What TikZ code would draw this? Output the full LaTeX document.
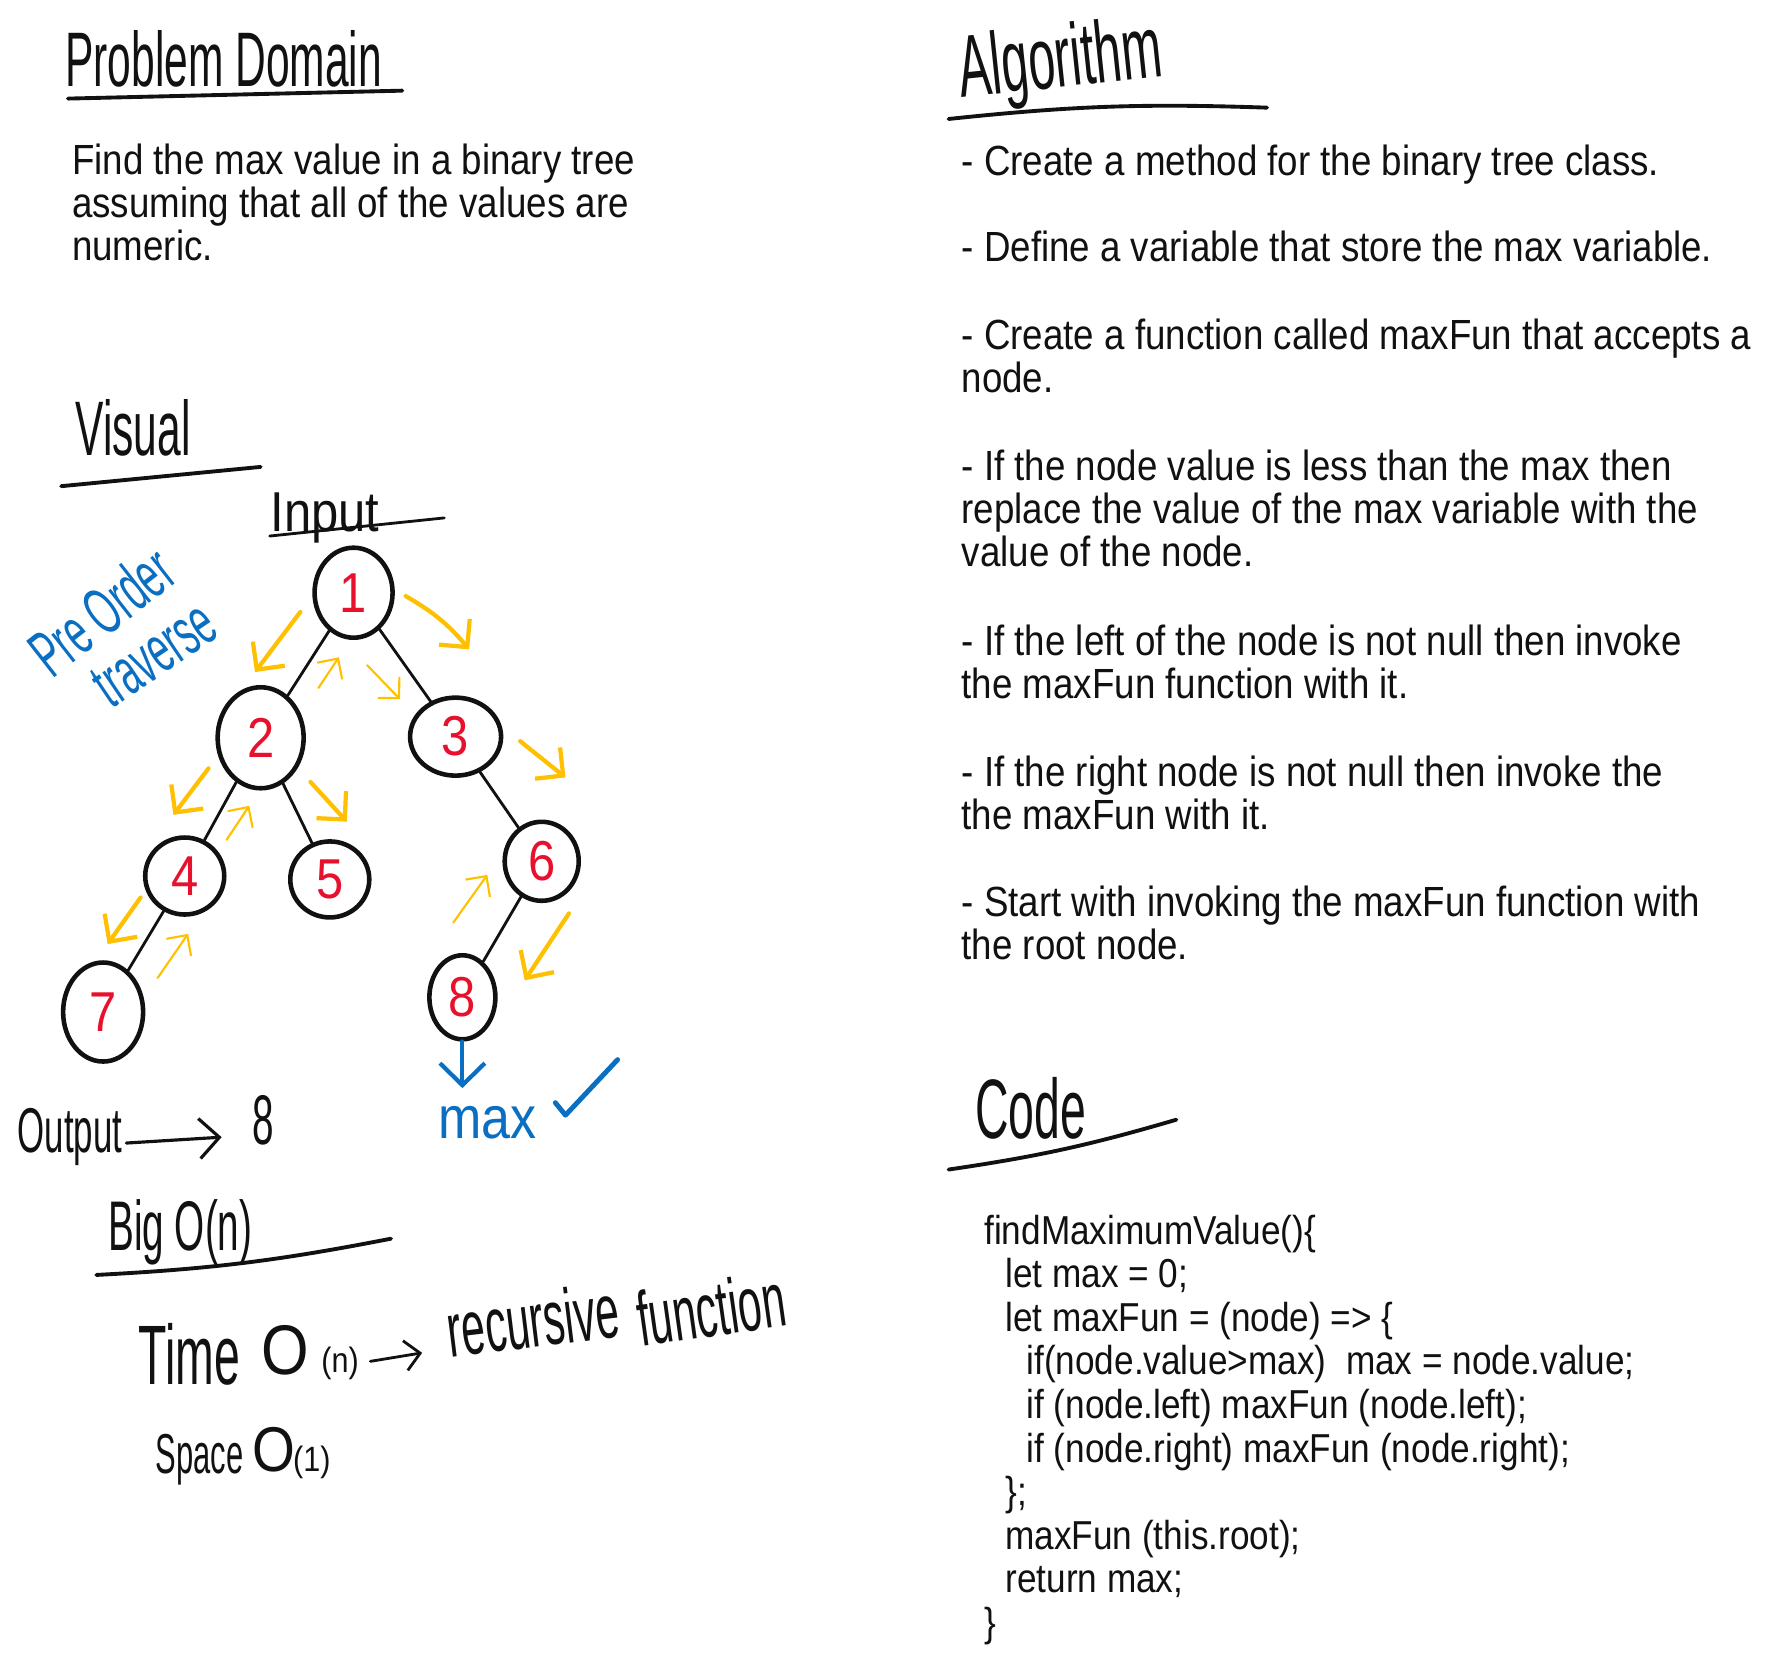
\documentclass[tikz,border=0pt]{standalone}
\usepackage{fontspec}
\setmainfont{Liberation Sans}[FakeStretch=0.87]
\newfontfamily\handfont{Liberation Sans}[FakeStretch=0.55]
\usepackage{tikz}
\usetikzlibrary{arrows.meta,positioning,shapes.geometric}
\definecolor{ink}{HTML}{111111}
\definecolor{numred}{HTML}{E8112D}
\definecolor{trail}{HTML}{FFC000}
\definecolor{pen}{HTML}{0A6FC2}

\begin{document}
\begin{tikzpicture}[
  x=0.11333mm, y=-0.11333mm,
  every node/.style={inner sep=0pt, text=ink},
  heading/.style={font=\handfont\fontsize{22}{24}\selectfont, anchor=base west},
  % multi-line nodes sit on the baseline of their last line
  body/.style={font=\fontsize{12}{12.25}\selectfont, align=left, anchor=base west},
  code/.style={font=\fontsize{11.5}{12.4}\selectfont, align=left, anchor=base west},
  tnode/.style={ellipse, draw=ink, line width=1.3pt, text=numred, font=\fontsize{16}{16}\selectfont},
  edge/.style={draw=ink, line width=0.8pt, line cap=round},
  uline/.style={draw=ink, line width=1.1pt, line cap=round},
  trail/.style={-{Straight Barb[length=2mm,width=4mm]}, draw=trail, line width=1.2pt, line cap=round},
  trailthin/.style={-{Straight Barb[length=1.5mm,width=3mm]}, draw=trail, line width=0.6pt, line cap=round},
  arrow/.style={-{Straight Barb[length=2mm,width=4mm]}, draw=ink, line width=0.9pt, line cap=round},
  penline/.style={draw=pen, line width=1.2pt, line cap=round, line join=round}
]
\fill[white] (0,0) rectangle (1568,1466);
\useasboundingbox (0,0) rectangle (1568,1466);

% problem domain
\node[heading] (pdtitle) at (57,76) {Problem Domain};
\draw[uline] (60,87) -- (355,80);
\node[body] (pdtext) at (63,230) {Find the max value in a binary tree\\assuming that all of the values are\\numeric.};

% algorithm
\node[heading, font=\handfont\fontsize{25}{26}\selectfont, rotate=6] (algtitle) at (848,86) {Algorithm};
\draw[uline] (837,105) to[bend left=4] (1118,95);
\node[body] (step1) at (848,155) {- Create a method for the binary tree class.};
\node[body] (step2) at (848,231) {- Define a variable that store the max variable.};
\node[body] (step3) at (848,346) {- Create a function called maxFun that accepts a\\node.};
\node[body] (step4) at (848,500) {- If the node value is less than the max then\\replace the value of the max variable with the\\value of the node.};
\node[body] (step5) at (848,616) {- If the left of the node is not null then invoke\\the maxFun function with it.};
\node[body] (step6) at (848,732) {- If the right node is not null then invoke the\\the maxFun with it.};
\node[body] (step7) at (848,847) {- Start with invoking the maxFun function with\\the root node.};

% visual
\node[heading] (vistitle) at (66,402) {Visual};
\draw[uline] (54,429) -- (230,412);
\node[anchor=base west, font=\fontsize{16}{16}\selectfont] (input) at (238,469) {Input};
\draw[uline, line width=0.8pt] (238,473) -- (392,457);
\node[heading, font=\handfont\fontsize{19}{19}\selectfont, text=pen, rotate=38] (pre) at (46,600) {Pre Order};
\node[heading, font=\handfont\fontsize{19}{19}\selectfont, text=pen, rotate=34] (trav) at (98,626) {traverse};

% tree
\node[tnode, minimum width=7.8mm, minimum height=9mm] (n1) at (312,523) {1};
\node[tnode, minimum width=8.6mm, minimum height=10.1mm] (n2) at (230,651) {2};
\node[tnode, minimum width=9.1mm, minimum height=7.8mm] (n3) at (402,650) {3};
\node[tnode, minimum width=7.9mm, minimum height=7.7mm] (n4) at (163,773) {4};
\node[tnode, minimum width=7.9mm, minimum height=7.6mm] (n5) at (291,776) {5};
\node[tnode, minimum width=7.4mm, minimum height=7.9mm] (n6) at (478,760) {6};
\node[tnode, minimum width=8mm, minimum height=9.9mm] (n7) at (91,893) {7};
\node[tnode, minimum width=6.6mm, minimum height=8.4mm] (n8) at (408,880) {8};

\draw[edge] (n1) -- (n2);
\draw[edge] (n1) -- (n3);
\draw[edge] (n2) -- (n4);
\draw[edge] (n2) -- (n5);
\draw[edge] (n3) -- (n6);
\draw[edge] (n4) -- (n7);
\draw[edge] (n6) -- (n8);

% traversal order
\draw[trail] (265,540) -- (225,593);
\draw[trail] (358,526) to[bend left=10] (414,573);
\draw[trailthin] (281,607) -- (299,580);
\draw[trailthin] (324,587) -- (353,617);
\draw[trail] (184,678) -- (153,719);
\draw[trail] (274,690) -- (306,725);
\draw[trailthin] (200,741) -- (220,711);
\draw[trail] (459,654) -- (499,686);
\draw[trail] (124,792) -- (95,833);
\draw[trailthin] (139,863) -- (166,824);
\draw[trailthin] (400,814) -- (430,772);
\draw[trail] (502,806) -- (463,865);

% result
\node[anchor=base west, text=pen, font=\fontsize{17}{17}\selectfont] (maxlbl) at (386,1005) {max};
\draw[penline, -{Straight Barb[length=2.2mm,width=4.5mm]}, shorten >=1.8mm] (n8.south) -- (n8.south |- maxlbl.north);
\draw[penline, line width=1.4pt] (490,973) -- (499,984) -- (545,935);

\node[heading, font=\handfont\fontsize{18}{18}\selectfont] (outlbl) at (15,1017) {Output};
\node[heading, font=\handfont\fontsize{20}{20}\selectfont] (outval) at (222,1010) {8};
\draw[arrow, shorten >=3mm, shorten <=1pt] (outlbl.mid east) -- (outval.mid west);

% big o
\node[heading, font=\handfont\fontsize{20}{20}\selectfont] (bigo) at (95,1103) {Big O(n)};
\draw[uline] (85,1125) to[bend right=4] (345,1093);
\node[heading, font=\handfont\fontsize{24}{24}\selectfont] (time) at (122,1222) {Time};
\node[anchor=base west, font=\fontsize{20}{20}\selectfont] (timeo) at (230,1213) {O};
\node[anchor=base west, font=\fontsize{10}{10}\selectfont] (timen) at (283,1211) {(n)};
\node[heading, rotate=7] (recur) at (397,1198) {recursive};
\node[heading, rotate=8] (func) at (565,1188) {function};
\draw[arrow, line width=0.8pt, -{Straight Barb[length=1.5mm,width=3mm]}, shorten <=1.1mm, shorten >=2.7mm] (timen.mid east) -- (recur.mid west);
\node[heading, font=\handfont\fontsize{16}{16}\selectfont] (space) at (137,1300) {Space};
\node[anchor=base west, font=\fontsize{18}{18}\selectfont] (spaceo) at (222,1298) {O};
\node[anchor=base west, font=\fontsize{10}{10}\selectfont] (spacen) at (258,1298) {(1)};

% code
\node[heading, font=\handfont\fontsize{24}{24}\selectfont] (codetitle) at (860,1005) {Code};
\draw[uline] (837,1032) to[bend right=4] (1038,988);
\node[code] (codebody) at (868,1444) {findMaximumValue()\{\\
\hspace*{6pt}let max = 0;\\
\hspace*{6pt}let maxFun = (node) => \{\\
\hspace*{12pt}if(node.value>max)~~max = node.value;\\
\hspace*{12pt}if (node.left) maxFun (node.left);\\
\hspace*{12pt}if (node.right) maxFun (node.right);\\
\hspace*{6pt}\};\\
\hspace*{6pt}maxFun (this.root);\\
\hspace*{6pt}return max;\\
\}};
\end{tikzpicture}
\end{document}
